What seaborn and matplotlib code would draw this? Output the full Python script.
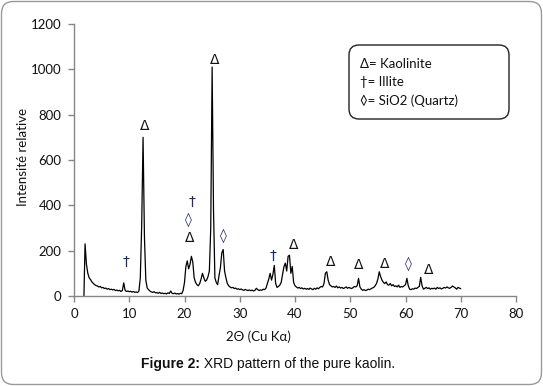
import numpy as np
import pandas as pd
import matplotlib
matplotlib.use("Agg")
import matplotlib.pyplot as plt
import seaborn as sns
from matplotlib.patches import FancyBboxPatch
from matplotlib.transforms import IdentityTransform

# ---- data ----
two_theta_start = 2.0
two_theta_step = 0.25
intensity = [
    230, 140, 100, 80,   # 2
    72, 62, 55, 50,      # 3
    46, 44, 40, 42,      # 4
    36, 38, 33, 35,      # 5
    30, 33, 28, 30,      # 6
    27, 29, 24, 26,      # 7
    23, 25, 20, 24,      # 8
    58, 25, 20, 22,      # 9
    19, 21, 17, 20,      # 10
    16, 18, 15, 22,      # 11
    80, 310, 700, 260,   # 12
    70, 35, 28, 22,      # 13
    18, 16, 19, 14,      # 14
    15, 12, 16, 11,      # 15
    13, 10, 12, 9,       # 16
    14, 11, 22, 12,      # 17
    10, 13, 9, 11,       # 18
    8, 12, 10, 25,       # 19
    60, 130, 155, 120,   # 20
    140, 175, 150, 80,   # 21
    60, 50, 45, 55,      # 22
    75, 100, 80, 65,     # 23
    70, 85, 110, 300,    # 24
    1010, 380, 80, 60,   # 25
    50, 90, 125, 190,    # 26
    205, 110, 80, 55,    # 27
    45, 40, 36, 38,      # 28
    33, 35, 30, 32,      # 29
    28, 31, 27, 25,      # 30
    29, 26, 24, 27,      # 31
    23, 26, 22, 25,      # 32
    34, 28, 24, 27,      # 33
    25, 30, 28, 35,      # 34
    55, 75, 100, 70,     # 35
    95, 135, 55, 38,     # 36
    42, 48, 60, 95,      # 37
    130, 145, 110, 175,  # 38
    180, 100, 130, 60,   # 39
    45, 40, 35, 38,      # 40
    33, 36, 31, 34,      # 41
    30, 33, 29, 35,      # 42
    31, 28, 34, 30,      # 43
    36, 32, 38, 42,      # 44
    40, 55, 100, 107,    # 45
    70, 50, 45, 40,      # 46
    42, 38, 44, 36,      # 47
    40, 35, 38, 33,      # 48
    36, 40, 34, 38,      # 49
    35, 33, 37, 42,      # 50
    40, 45, 78, 40,      # 51
    30, 25, 28, 24,      # 52
    26, 30, 28, 32,      # 53
    35, 38, 45, 55,      # 54
    75, 107, 85, 70,     # 55
    60, 55, 62, 50,      # 56
    48, 55, 45, 50,      # 57
    42, 45, 40, 48,      # 58
    38, 42, 40, 45,      # 59
    50, 78, 45, 30,      # 60
    28, 32, 30, 35,      # 61
    33, 38, 42, 82,      # 62
    45, 30, 34, 38,      # 63
    33, 36, 30, 34,      # 64
    32, 35, 30, 38,      # 65
    33, 36, 31, 34,      # 66
    38, 35, 40, 36,      # 67
    34, 38, 44, 40,      # 68
    36, 30, 38, 35,      # 69
    32,                  # 70
]
two_theta = [two_theta_start + i * two_theta_step for i in range(len(intensity))]
# the trace starts from zero just before 2 degrees
two_theta = [1.8] + two_theta
intensity = [0] + intensity

# peak labels: (symbol, 2theta, height)
label_symbols = ["\u0394", "\u2020", "\u0394", "\u25CA", "\u2020", "\u0394", "\u25CA",
                 "\u2020", "\u0394", "\u0394", "\u0394", "\u0394", "\u25CA", "\u0394"]
label_x = [12.7, 9.4, 21.0, 20.7, 21.4, 25.5, 27.1, 36.1, 39.7, 46.5, 51.6, 56.2, 60.6, 64.1]
label_y = [752, 151, 256, 337, 415, 1040, 268, 177, 224, 151, 136, 143, 143, 114]

legend_lines = ["\u0394= Kaolinite", "\u2020= Illite", "\u25CA= SiO2 (Quartz)"]

x_ticks = [0, 10, 20, 30, 40, 50, 60, 70, 80]
y_ticks = [0, 200, 400, 600, 800, 1000, 1200]

caption_bold = "Figure 2:"
caption_rest = " XRD pattern of the pure kaolin."

# ---- plot ----
sns.set_style("white")
plt.rcParams["font.family"] = ["Lato", "DejaVu Sans"]

W, H = 543, 386
fig = plt.figure(figsize=(W / 100, H / 100), dpi=100)
ax = fig.add_axes([74 / W, 1 - 296 / H, (516 - 74) / W, (296 - 24) / H])

df = pd.DataFrame({"two_theta": two_theta, "intensity": intensity})
sns.lineplot(data=df, x="two_theta", y="intensity", ax=ax, color="black",
             linewidth=0.9, estimator=None, sort=False)

ax.set_xlim(0, 80)
ax.set_ylim(0, 1200)
ax.set_xticks(x_ticks)
ax.set_yticks(y_ticks)
ax.set_xlabel("")
ax.set_ylabel("")
for s in ["top", "right"]:
    ax.spines[s].set_visible(False)
for s in ["left", "bottom"]:
    ax.spines[s].set_color("#868686")
    ax.spines[s].set_linewidth(1.0)
ax.tick_params(axis="both", which="both", direction="out", length=4, width=1,
               color="#868686", labelsize=9.5, labelcolor="#111111", pad=5,
               left=True, bottom=True)

for sym, xx, yy in zip(label_symbols, label_x, label_y):
    col = "#111111" if sym == "\u0394" else "#1f2a6b"
    ax.text(xx, yy, sym, ha="center", va="center", fontsize=10, color=col,
            family=["DejaVu Sans"])

# axis titles
fig.text(258 / W, 1 - 337 / H, "2\u0398 (Cu K\u03b1)", ha="center", va="center",
         fontsize=9.5, color="#111111")
fig.text(23 / W, 1 - 157 / H, "Intensité relative", ha="center", va="center",
         rotation=90, fontsize=9.5, color="#111111")

# legend box
ident = IdentityTransform()
box = FancyBboxPatch((349 + 10, H - 119 + 10), 160 - 20, 74 - 20,
                     boxstyle="round,pad=10", transform=ident,
                     facecolor="white", edgecolor="#222222", linewidth=1.0)
fig.patches.append(box)
for i, line in enumerate(legend_lines):
    fig.text(360 / W, 1 - (63.5 + i * 18.8) / H, line, ha="left", va="center",
             fontsize=9.5, color="#111111", family=["Lato", "DejaVu Sans"])

# caption: bold lead-in followed by regular text
renderer = fig.canvas.get_renderer()
t1 = fig.text(0, 1 - 364 / H, caption_bold, ha="left", va="center", fontsize=10,
              fontweight="bold", color="#111111", family=["Liberation Sans"])
t2 = fig.text(0, 1 - 364 / H, caption_rest, ha="left", va="center", fontsize=10,
              color="#111111", family=["Liberation Sans"])
w1 = t1.get_window_extent(renderer).width
w2 = t2.get_window_extent(renderer).width
x0 = 268 - (w1 + w2) / 2
t1.set_x(x0 / W)
t2.set_x((x0 + w1) / W)

# outer rounded frame
frame = FancyBboxPatch((1.5 + 12, 1.5 + 12), W - 3 - 24, H - 3 - 24,
                       boxstyle="round,pad=12", transform=ident,
                       facecolor="none", edgecolor="#9a9a9a", linewidth=1.0)
fig.patches.append(frame)

fig.savefig("out.png", dpi=100)
